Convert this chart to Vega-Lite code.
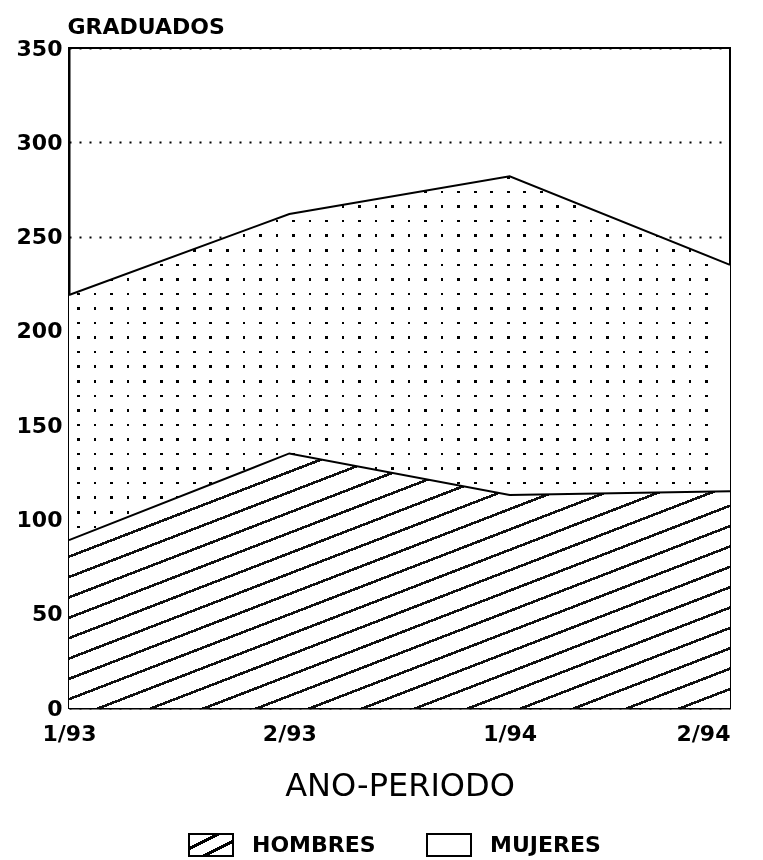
{
  "$schema": "https://vega.github.io/schema/vega-lite/v6.json",
  "width": 661,
  "height": 660,
  "autosize": "none",
  "padding": {"left": 69, "top": 48, "right": 33, "bottom": 152},
  "background": "white",
  "config": {"view": {"stroke": "black", "strokeWidth": 2}, "font": "DejaVu Sans"},
  "data": {"values": [
    {"periodo": "1/93", "sexo": "HOMBRES", "graduados": 89},
    {"periodo": "2/93", "sexo": "HOMBRES", "graduados": 135},
    {"periodo": "1/94", "sexo": "HOMBRES", "graduados": 113},
    {"periodo": "2/94", "sexo": "HOMBRES", "graduados": 115},
    {"periodo": "1/93", "sexo": "MUJERES", "graduados": 130},
    {"periodo": "2/93", "sexo": "MUJERES", "graduados": 127},
    {"periodo": "1/94", "sexo": "MUJERES", "graduados": 169},
    {"periodo": "2/94", "sexo": "MUJERES", "graduados": 120}
  ]},
  "transform": [
    {"stack": "graduados", "groupby": ["periodo"], "sort": [{"field": "sexo", "order": "ascending"}], "as": ["y0", "y1"]}
  ],
  "encoding": {
    "x": {
      "field": "periodo", "type": "ordinal",
      "sort": ["1/93", "2/93", "1/94", "2/94"],
      "scale": {"type": "point", "padding": 0},
      "axis": {
        "title": "ANO-PERIODO", "titleFont": "DejaVu Sans", "titleFontSize": 32, "titleFontWeight": "normal", "titleColor": "black",
        "titleY": 87, "titleBaseline": "alphabetic",
        "labelAngle": 0, "labelFont": "DejaVu Sans", "labelFontSize": 22, "labelFontWeight": "bold", "labelColor": "black",
        "labelPadding": 15, "labelBaseline": "top",
        "labelAlign": {"condition": {"test": "datum.value === '2/94'", "value": "right"}, "value": "center"},
        "ticks": false, "domainColor": "black", "domainWidth": 2, "grid": false
      }
    },
    "y": {
      "field": "y1", "type": "quantitative", "stack": null,
      "scale": {"domain": [0, 350], "nice": false},
      "axis": {
        "title": "GRADUADOS", "titleAngle": 0, "titleAlign": "left", "titleBaseline": "alphabetic",
        "titleX": -2, "titleY": -15, "titleFont": "DejaVu Sans", "titleFontSize": 22, "titleFontWeight": "bold", "titleColor": "black",
        "values": [0, 50, 100, 150, 200, 250, 300, 350],
        "labelFont": "DejaVu Sans", "labelFontSize": 22, "labelFontWeight": "bold", "labelColor": "black", "labelPadding": 7,
        "ticks": false, "domainColor": "black", "domainWidth": 2,
        "grid": true, "gridColor": "black", "gridDash": [2, 8], "gridWidth": 2, "gridOpacity": 1
      }
    }
  },
  "layer": [
    {
      "transform": [{"filter": "datum.sexo === 'HOMBRES'"}],
      "mark": {"type": "area", "opacity": 1, "fill": {"gradient": "linear", "x1": 0, "y1": 0, "x2": 1, "y2": 1, "stops": [
        {"offset": 0, "color": "#111"}, {"offset": 0.0055, "color": "#111"}, {"offset": 0.0055, "color": "#fff"}, {"offset": 0.04, "color": "#fff"},
        {"offset": 0.04, "color": "#111"}, {"offset": 0.0455, "color": "#111"}, {"offset": 0.0455, "color": "#fff"}, {"offset": 0.08, "color": "#fff"},
        {"offset": 0.08, "color": "#111"}, {"offset": 0.0855, "color": "#111"}, {"offset": 0.0855, "color": "#fff"}, {"offset": 0.12, "color": "#fff"},
        {"offset": 0.12, "color": "#111"}, {"offset": 0.1255, "color": "#111"}, {"offset": 0.1255, "color": "#fff"}, {"offset": 0.16, "color": "#fff"},
        {"offset": 0.16, "color": "#111"}, {"offset": 0.1655, "color": "#111"}, {"offset": 0.1655, "color": "#fff"}, {"offset": 0.2, "color": "#fff"},
        {"offset": 0.2, "color": "#111"}, {"offset": 0.2055, "color": "#111"}, {"offset": 0.2055, "color": "#fff"}, {"offset": 0.24, "color": "#fff"},
        {"offset": 0.24, "color": "#111"}, {"offset": 0.2455, "color": "#111"}, {"offset": 0.2455, "color": "#fff"}, {"offset": 0.28, "color": "#fff"},
        {"offset": 0.28, "color": "#111"}, {"offset": 0.2855, "color": "#111"}, {"offset": 0.2855, "color": "#fff"}, {"offset": 0.32, "color": "#fff"},
        {"offset": 0.32, "color": "#111"}, {"offset": 0.3255, "color": "#111"}, {"offset": 0.3255, "color": "#fff"}, {"offset": 0.36, "color": "#fff"},
        {"offset": 0.36, "color": "#111"}, {"offset": 0.3655, "color": "#111"}, {"offset": 0.3655, "color": "#fff"}, {"offset": 0.4, "color": "#fff"},
        {"offset": 0.4, "color": "#111"}, {"offset": 0.4055, "color": "#111"}, {"offset": 0.4055, "color": "#fff"}, {"offset": 0.44, "color": "#fff"},
        {"offset": 0.44, "color": "#111"}, {"offset": 0.4455, "color": "#111"}, {"offset": 0.4455, "color": "#fff"}, {"offset": 0.48, "color": "#fff"},
        {"offset": 0.48, "color": "#111"}, {"offset": 0.4855, "color": "#111"}, {"offset": 0.4855, "color": "#fff"}, {"offset": 0.52, "color": "#fff"},
        {"offset": 0.52, "color": "#111"}, {"offset": 0.5255, "color": "#111"}, {"offset": 0.5255, "color": "#fff"}, {"offset": 0.56, "color": "#fff"},
        {"offset": 0.56, "color": "#111"}, {"offset": 0.5655, "color": "#111"}, {"offset": 0.5655, "color": "#fff"}, {"offset": 0.6, "color": "#fff"},
        {"offset": 0.6, "color": "#111"}, {"offset": 0.6055, "color": "#111"}, {"offset": 0.6055, "color": "#fff"}, {"offset": 0.64, "color": "#fff"},
        {"offset": 0.64, "color": "#111"}, {"offset": 0.6455, "color": "#111"}, {"offset": 0.6455, "color": "#fff"}, {"offset": 0.68, "color": "#fff"},
        {"offset": 0.68, "color": "#111"}, {"offset": 0.6855, "color": "#111"}, {"offset": 0.6855, "color": "#fff"}, {"offset": 0.72, "color": "#fff"},
        {"offset": 0.72, "color": "#111"}, {"offset": 0.7255, "color": "#111"}, {"offset": 0.7255, "color": "#fff"}, {"offset": 0.76, "color": "#fff"},
        {"offset": 0.76, "color": "#111"}, {"offset": 0.7655, "color": "#111"}, {"offset": 0.7655, "color": "#fff"}, {"offset": 0.8, "color": "#fff"},
        {"offset": 0.8, "color": "#111"}, {"offset": 0.8055, "color": "#111"}, {"offset": 0.8055, "color": "#fff"}, {"offset": 0.84, "color": "#fff"},
        {"offset": 0.84, "color": "#111"}, {"offset": 0.8455, "color": "#111"}, {"offset": 0.8455, "color": "#fff"}, {"offset": 0.88, "color": "#fff"},
        {"offset": 0.88, "color": "#111"}, {"offset": 0.8855, "color": "#111"}, {"offset": 0.8855, "color": "#fff"}, {"offset": 0.92, "color": "#fff"},
        {"offset": 0.92, "color": "#111"}, {"offset": 0.9255, "color": "#111"}, {"offset": 0.9255, "color": "#fff"}, {"offset": 0.96, "color": "#fff"},
        {"offset": 0.96, "color": "#111"}, {"offset": 0.9655, "color": "#111"}, {"offset": 0.9655, "color": "#fff"}, {"offset": 1, "color": "#fff"}
      ]}},
      "encoding": {"y2": {"field": "y0"}}
    },
    {
      "transform": [{"filter": "datum.sexo === 'MUJERES'"}],
      "mark": {"type": "area", "opacity": 1, "fill": {"gradient": "linear", "x1": 0, "y1": 0, "x2": 0, "y2": 1, "stops": [
        {"offset": 0, "color": "#000"}, {"offset": 0.007, "color": "#000"}, {"offset": 0.007, "color": "#fff"}, {"offset": 0.04, "color": "#fff"},
        {"offset": 0.04, "color": "#000"}, {"offset": 0.047, "color": "#000"}, {"offset": 0.047, "color": "#fff"}, {"offset": 0.08, "color": "#fff"},
        {"offset": 0.08, "color": "#000"}, {"offset": 0.087, "color": "#000"}, {"offset": 0.087, "color": "#fff"}, {"offset": 0.12, "color": "#fff"},
        {"offset": 0.12, "color": "#000"}, {"offset": 0.127, "color": "#000"}, {"offset": 0.127, "color": "#fff"}, {"offset": 0.16, "color": "#fff"},
        {"offset": 0.16, "color": "#000"}, {"offset": 0.167, "color": "#000"}, {"offset": 0.167, "color": "#fff"}, {"offset": 0.2, "color": "#fff"},
        {"offset": 0.2, "color": "#000"}, {"offset": 0.207, "color": "#000"}, {"offset": 0.207, "color": "#fff"}, {"offset": 0.24, "color": "#fff"},
        {"offset": 0.24, "color": "#000"}, {"offset": 0.247, "color": "#000"}, {"offset": 0.247, "color": "#fff"}, {"offset": 0.28, "color": "#fff"},
        {"offset": 0.28, "color": "#000"}, {"offset": 0.287, "color": "#000"}, {"offset": 0.287, "color": "#fff"}, {"offset": 0.32, "color": "#fff"},
        {"offset": 0.32, "color": "#000"}, {"offset": 0.327, "color": "#000"}, {"offset": 0.327, "color": "#fff"}, {"offset": 0.36, "color": "#fff"},
        {"offset": 0.36, "color": "#000"}, {"offset": 0.367, "color": "#000"}, {"offset": 0.367, "color": "#fff"}, {"offset": 0.4, "color": "#fff"},
        {"offset": 0.4, "color": "#000"}, {"offset": 0.407, "color": "#000"}, {"offset": 0.407, "color": "#fff"}, {"offset": 0.44, "color": "#fff"},
        {"offset": 0.44, "color": "#000"}, {"offset": 0.447, "color": "#000"}, {"offset": 0.447, "color": "#fff"}, {"offset": 0.48, "color": "#fff"},
        {"offset": 0.48, "color": "#000"}, {"offset": 0.487, "color": "#000"}, {"offset": 0.487, "color": "#fff"}, {"offset": 0.52, "color": "#fff"},
        {"offset": 0.52, "color": "#000"}, {"offset": 0.527, "color": "#000"}, {"offset": 0.527, "color": "#fff"}, {"offset": 0.56, "color": "#fff"},
        {"offset": 0.56, "color": "#000"}, {"offset": 0.567, "color": "#000"}, {"offset": 0.567, "color": "#fff"}, {"offset": 0.6, "color": "#fff"},
        {"offset": 0.6, "color": "#000"}, {"offset": 0.607, "color": "#000"}, {"offset": 0.607, "color": "#fff"}, {"offset": 0.64, "color": "#fff"},
        {"offset": 0.64, "color": "#000"}, {"offset": 0.647, "color": "#000"}, {"offset": 0.647, "color": "#fff"}, {"offset": 0.68, "color": "#fff"},
        {"offset": 0.68, "color": "#000"}, {"offset": 0.687, "color": "#000"}, {"offset": 0.687, "color": "#fff"}, {"offset": 0.72, "color": "#fff"},
        {"offset": 0.72, "color": "#000"}, {"offset": 0.727, "color": "#000"}, {"offset": 0.727, "color": "#fff"}, {"offset": 0.76, "color": "#fff"},
        {"offset": 0.76, "color": "#000"}, {"offset": 0.767, "color": "#000"}, {"offset": 0.767, "color": "#fff"}, {"offset": 0.8, "color": "#fff"},
        {"offset": 0.8, "color": "#000"}, {"offset": 0.807, "color": "#000"}, {"offset": 0.807, "color": "#fff"}, {"offset": 0.84, "color": "#fff"},
        {"offset": 0.84, "color": "#000"}, {"offset": 0.847, "color": "#000"}, {"offset": 0.847, "color": "#fff"}, {"offset": 0.88, "color": "#fff"},
        {"offset": 0.88, "color": "#000"}, {"offset": 0.887, "color": "#000"}, {"offset": 0.887, "color": "#fff"}, {"offset": 0.92, "color": "#fff"},
        {"offset": 0.92, "color": "#000"}, {"offset": 0.927, "color": "#000"}, {"offset": 0.927, "color": "#fff"}, {"offset": 0.96, "color": "#fff"},
        {"offset": 0.96, "color": "#000"}, {"offset": 0.967, "color": "#000"}, {"offset": 0.967, "color": "#fff"}, {"offset": 1, "color": "#fff"}
      ]}},
      "encoding": {"y2": {"field": "y0"}}
    },
    {
      "transform": [{"filter": "datum.sexo === 'MUJERES'"}],
      "mark": {"type": "area", "opacity": 1, "blend": "screen", "fill": {"gradient": "linear", "x1": 0, "y1": 0, "x2": 1, "y2": 0, "stops": [
        {"offset": 0, "color": "#fff"}, {"offset": 0.0125, "color": "#fff"}, {"offset": 0.0125, "color": "#000"}, {"offset": 0.0165, "color": "#000"}, {"offset": 0.0165, "color": "#fff"},
        {"offset": 0.0375, "color": "#fff"}, {"offset": 0.0375, "color": "#000"}, {"offset": 0.0415, "color": "#000"}, {"offset": 0.0415, "color": "#fff"},
        {"offset": 0.0625, "color": "#fff"}, {"offset": 0.0625, "color": "#000"}, {"offset": 0.0665, "color": "#000"}, {"offset": 0.0665, "color": "#fff"},
        {"offset": 0.0875, "color": "#fff"}, {"offset": 0.0875, "color": "#000"}, {"offset": 0.0915, "color": "#000"}, {"offset": 0.0915, "color": "#fff"},
        {"offset": 0.1125, "color": "#fff"}, {"offset": 0.1125, "color": "#000"}, {"offset": 0.1165, "color": "#000"}, {"offset": 0.1165, "color": "#fff"},
        {"offset": 0.1375, "color": "#fff"}, {"offset": 0.1375, "color": "#000"}, {"offset": 0.1415, "color": "#000"}, {"offset": 0.1415, "color": "#fff"},
        {"offset": 0.1625, "color": "#fff"}, {"offset": 0.1625, "color": "#000"}, {"offset": 0.1665, "color": "#000"}, {"offset": 0.1665, "color": "#fff"},
        {"offset": 0.1875, "color": "#fff"}, {"offset": 0.1875, "color": "#000"}, {"offset": 0.1915, "color": "#000"}, {"offset": 0.1915, "color": "#fff"},
        {"offset": 0.2125, "color": "#fff"}, {"offset": 0.2125, "color": "#000"}, {"offset": 0.2165, "color": "#000"}, {"offset": 0.2165, "color": "#fff"},
        {"offset": 0.2375, "color": "#fff"}, {"offset": 0.2375, "color": "#000"}, {"offset": 0.2415, "color": "#000"}, {"offset": 0.2415, "color": "#fff"},
        {"offset": 0.2625, "color": "#fff"}, {"offset": 0.2625, "color": "#000"}, {"offset": 0.2665, "color": "#000"}, {"offset": 0.2665, "color": "#fff"},
        {"offset": 0.2875, "color": "#fff"}, {"offset": 0.2875, "color": "#000"}, {"offset": 0.2915, "color": "#000"}, {"offset": 0.2915, "color": "#fff"},
        {"offset": 0.3125, "color": "#fff"}, {"offset": 0.3125, "color": "#000"}, {"offset": 0.3165, "color": "#000"}, {"offset": 0.3165, "color": "#fff"},
        {"offset": 0.3375, "color": "#fff"}, {"offset": 0.3375, "color": "#000"}, {"offset": 0.3415, "color": "#000"}, {"offset": 0.3415, "color": "#fff"},
        {"offset": 0.3625, "color": "#fff"}, {"offset": 0.3625, "color": "#000"}, {"offset": 0.3665, "color": "#000"}, {"offset": 0.3665, "color": "#fff"},
        {"offset": 0.3875, "color": "#fff"}, {"offset": 0.3875, "color": "#000"}, {"offset": 0.3915, "color": "#000"}, {"offset": 0.3915, "color": "#fff"},
        {"offset": 0.4125, "color": "#fff"}, {"offset": 0.4125, "color": "#000"}, {"offset": 0.4165, "color": "#000"}, {"offset": 0.4165, "color": "#fff"},
        {"offset": 0.4375, "color": "#fff"}, {"offset": 0.4375, "color": "#000"}, {"offset": 0.4415, "color": "#000"}, {"offset": 0.4415, "color": "#fff"},
        {"offset": 0.4625, "color": "#fff"}, {"offset": 0.4625, "color": "#000"}, {"offset": 0.4665, "color": "#000"}, {"offset": 0.4665, "color": "#fff"},
        {"offset": 0.4875, "color": "#fff"}, {"offset": 0.4875, "color": "#000"}, {"offset": 0.4915, "color": "#000"}, {"offset": 0.4915, "color": "#fff"},
        {"offset": 0.5125, "color": "#fff"}, {"offset": 0.5125, "color": "#000"}, {"offset": 0.5165, "color": "#000"}, {"offset": 0.5165, "color": "#fff"},
        {"offset": 0.5375, "color": "#fff"}, {"offset": 0.5375, "color": "#000"}, {"offset": 0.5415, "color": "#000"}, {"offset": 0.5415, "color": "#fff"},
        {"offset": 0.5625, "color": "#fff"}, {"offset": 0.5625, "color": "#000"}, {"offset": 0.5665, "color": "#000"}, {"offset": 0.5665, "color": "#fff"},
        {"offset": 0.5875, "color": "#fff"}, {"offset": 0.5875, "color": "#000"}, {"offset": 0.5915, "color": "#000"}, {"offset": 0.5915, "color": "#fff"},
        {"offset": 0.6125, "color": "#fff"}, {"offset": 0.6125, "color": "#000"}, {"offset": 0.6165, "color": "#000"}, {"offset": 0.6165, "color": "#fff"},
        {"offset": 0.6375, "color": "#fff"}, {"offset": 0.6375, "color": "#000"}, {"offset": 0.6415, "color": "#000"}, {"offset": 0.6415, "color": "#fff"},
        {"offset": 0.6625, "color": "#fff"}, {"offset": 0.6625, "color": "#000"}, {"offset": 0.6665, "color": "#000"}, {"offset": 0.6665, "color": "#fff"},
        {"offset": 0.6875, "color": "#fff"}, {"offset": 0.6875, "color": "#000"}, {"offset": 0.6915, "color": "#000"}, {"offset": 0.6915, "color": "#fff"},
        {"offset": 0.7125, "color": "#fff"}, {"offset": 0.7125, "color": "#000"}, {"offset": 0.7165, "color": "#000"}, {"offset": 0.7165, "color": "#fff"},
        {"offset": 0.7375, "color": "#fff"}, {"offset": 0.7375, "color": "#000"}, {"offset": 0.7415, "color": "#000"}, {"offset": 0.7415, "color": "#fff"},
        {"offset": 0.7625, "color": "#fff"}, {"offset": 0.7625, "color": "#000"}, {"offset": 0.7665, "color": "#000"}, {"offset": 0.7665, "color": "#fff"},
        {"offset": 0.7875, "color": "#fff"}, {"offset": 0.7875, "color": "#000"}, {"offset": 0.7915, "color": "#000"}, {"offset": 0.7915, "color": "#fff"},
        {"offset": 0.8125, "color": "#fff"}, {"offset": 0.8125, "color": "#000"}, {"offset": 0.8165, "color": "#000"}, {"offset": 0.8165, "color": "#fff"},
        {"offset": 0.8375, "color": "#fff"}, {"offset": 0.8375, "color": "#000"}, {"offset": 0.8415, "color": "#000"}, {"offset": 0.8415, "color": "#fff"},
        {"offset": 0.8625, "color": "#fff"}, {"offset": 0.8625, "color": "#000"}, {"offset": 0.8665, "color": "#000"}, {"offset": 0.8665, "color": "#fff"},
        {"offset": 0.8875, "color": "#fff"}, {"offset": 0.8875, "color": "#000"}, {"offset": 0.8915, "color": "#000"}, {"offset": 0.8915, "color": "#fff"},
        {"offset": 0.9125, "color": "#fff"}, {"offset": 0.9125, "color": "#000"}, {"offset": 0.9165, "color": "#000"}, {"offset": 0.9165, "color": "#fff"},
        {"offset": 0.9375, "color": "#fff"}, {"offset": 0.9375, "color": "#000"}, {"offset": 0.9415, "color": "#000"}, {"offset": 0.9415, "color": "#fff"},
        {"offset": 0.9625, "color": "#fff"}, {"offset": 0.9625, "color": "#000"}, {"offset": 0.9665, "color": "#000"}, {"offset": 0.9665, "color": "#fff"},
        {"offset": 1, "color": "#fff"}
      ]}},
      "encoding": {"y2": {"field": "y0"}}
    },
    {
      "mark": {"type": "line", "strokeWidth": 2},
      "encoding": {
        "stroke": {
          "field": "sexo", "type": "nominal",
          "scale": {"domain": ["HOMBRES", "MUJERES"], "range": ["black", "black"]},
          "legend": {
            "title": null, "orient": "none", "legendX": 119, "legendY": 774, "direction": "horizontal",
            "symbolType": "M-1,-0.5H1V0.5H-1Z", "symbolSize": 1936, "symbolStrokeColor": "black", "symbolStrokeWidth": 2, "symbolOpacity": 1,
            "labelFont": "DejaVu Sans", "labelFontSize": 22, "labelFontWeight": "bold", "labelColor": "black",
            "labelOffset": 18, "columnPadding": 47, "padding": 0, "labelLimit": 300,
            "encode": {"symbols": {"update": {
              "stroke": {"value": "black"},
              "strokeWidth": {"value": 2},
              "fill": {"signal": "datum.value === 'HOMBRES' ? {gradient: 'linear', x1: 0, y1: 0, x2: 1, y2: 1, stops: [{offset: 0, color: '#fff'}, {offset: 0.3, color: '#fff'}, {offset: 0.3, color: '#000'}, {offset: 0.37, color: '#000'}, {offset: 0.37, color: '#fff'}, {offset: 0.63, color: '#fff'}, {offset: 0.63, color: '#000'}, {offset: 0.7, color: '#000'}, {offset: 0.7, color: '#fff'}, {offset: 1, color: '#fff'}]} : 'white'"}
            }}}
          }
        }
      }
    }
  ]
}
